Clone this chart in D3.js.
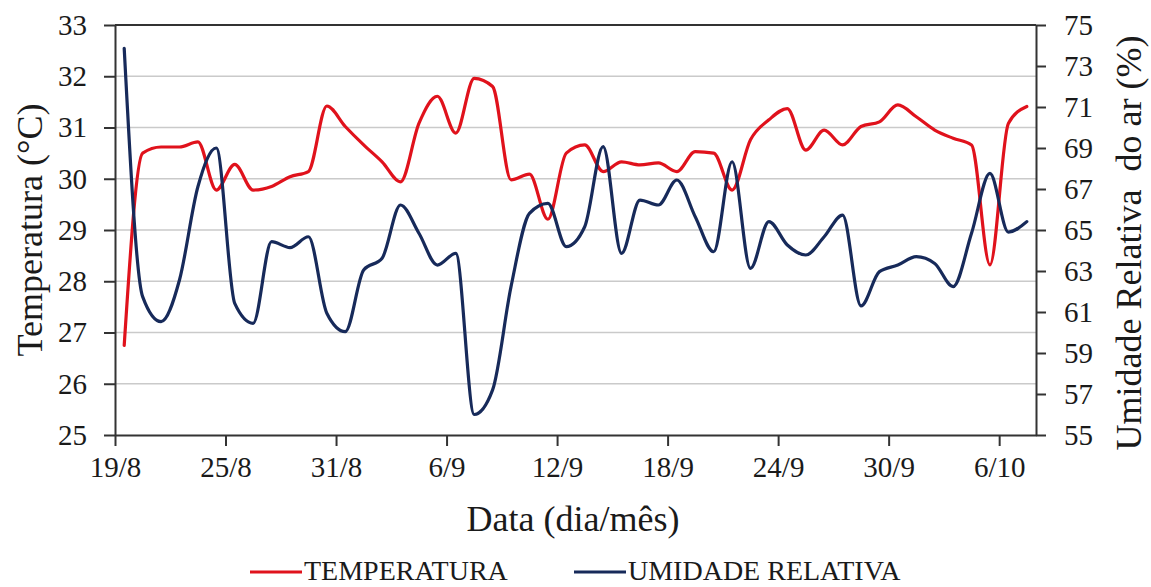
<!DOCTYPE html>
<html>
<head>
<meta charset="utf-8">
<script src="https://cdn.jsdelivr.net/npm/d3@7/dist/d3.min.js"></script>
<style>
  html, body { margin: 0; padding: 0; background: #ffffff; }
  svg { display: block; }
</style>
</head>
<body>
<svg id="chart" width="1151" height="587"></svg>
<script>
// Daily dates, 19/8 to 7/10
const dias = [
  "19/8","20/8","21/8","22/8","23/8","24/8","25/8","26/8","27/8","28/8",
  "29/8","30/8","31/8","1/9","2/9","3/9","4/9","5/9","6/9","7/9",
  "8/9","9/9","10/9","11/9","12/9","13/9","14/9","15/9","16/9","17/9",
  "18/9","19/9","20/9","21/9","22/9","23/9","24/9","25/9","26/9","27/9",
  "28/9","29/9","30/9","1/10","2/10","3/10","4/10","5/10","6/10","7/10"
];

// Mean daily air temperature (°C)
const temperatura = [
  26.75, 30.50, 30.62, 30.62, 30.72, 29.78, 30.28, 29.78, 29.85, 30.04,
  30.14, 31.42, 31.02, 30.66, 30.33, 29.94, 31.08, 31.61, 30.89, 31.96,
  31.80, 29.98, 30.09, 29.21, 30.50, 30.66, 30.14, 30.33, 30.27, 30.31,
  30.14, 30.53, 30.50, 29.78, 30.76, 31.15, 31.37, 30.56, 30.95, 30.66,
  31.02, 31.11, 31.44, 31.21, 30.95, 30.79, 30.66, 28.32, 31.08, 31.41
];

// Mean daily relative humidity (%)
const umidade = [
  73.86, 61.75, 60.53, 62.56, 67.11, 69.00, 61.42, 60.45, 64.43, 64.14,
  64.67, 60.94, 60.04, 63.05, 63.62, 66.22, 64.84, 63.29, 63.86, 56.00,
  57.20, 62.24, 65.81, 66.30, 64.19, 65.16, 69.07, 63.86, 66.46, 66.22,
  67.44, 65.65, 63.94, 68.33, 63.13, 65.41, 64.27, 63.78, 64.67, 65.73,
  61.30, 62.97, 63.29, 63.70, 63.37, 62.24, 64.84, 67.76, 64.90, 65.41
];

// Axis ticks
const ticksTemp = [25, 26, 27, 28, 29, 30, 31, 32, 33];
const ticksUmid = [55, 57, 59, 61, 63, 65, 67, 69, 71, 73, 75];
const ticksData = [0, 6, 12, 18, 24, 30, 36, 42, 48];

const FONTE = "'Liberation Serif', 'Times New Roman', Tinos, 'Nimbus Roman', 'DejaVu Serif', serif";
const svg = d3.select("#chart");
const plotL = 115, plotR = 1036, plotT = 25, plotB = 435;

const x = d3.scaleLinear().domain([0, dias.length]).range([plotL, plotR]);
const yT = d3.scaleLinear().domain([25, 33]).range([plotB, plotT]);
const yU = d3.scaleLinear().domain([55, 75]).range([plotB, plotT]);

// Horizontal gridlines on the temperature ticks
svg.append("g")
  .selectAll("line")
  .data(ticksTemp.slice(1, -1))
  .join("line")
  .attr("x1", plotL).attr("x2", plotR)
  .attr("y1", d => yT(d)).attr("y2", d => yT(d))
  .attr("stroke", "#cacaca")
  .attr("stroke-width", 1.6);

// Plot frame top edge
svg.append("line")
  .attr("x1", plotL).attr("x2", plotR)
  .attr("y1", plotT).attr("y2", plotT)
  .attr("stroke", "#333").attr("stroke-width", 2);

function styleAxis(g) {
  g.attr("font-family", FONTE).attr("font-size", 29);
  g.select(".domain").attr("stroke", "#333").attr("stroke-width", 2);
  g.selectAll(".tick line").attr("stroke", "#333").attr("stroke-width", 2);
  g.selectAll(".tick text").attr("fill", "#1a1a1a");
}

// Left axis: temperature
svg.append("g")
  .attr("transform", `translate(${plotL},0)`)
  .call(d3.axisLeft(yT).tickValues(ticksTemp).tickSize(11).tickSizeOuter(0).tickPadding(17).tickFormat(d3.format("d")))
  .call(styleAxis);

// Right axis: relative humidity
svg.append("g")
  .attr("transform", `translate(${plotR},0)`)
  .call(d3.axisRight(yU).tickValues(ticksUmid).tickSize(10).tickSizeOuter(0).tickPadding(18).tickFormat(d3.format("d")))
  .call(styleAxis);

// Bottom axis: dates
svg.append("g")
  .attr("transform", `translate(0,${plotB})`)
  .call(d3.axisBottom(x).tickValues(ticksData).tickSize(11).tickSizeOuter(0).tickPadding(10).tickFormat(i => dias[i]))
  .call(styleAxis);

// Series lines (smoothed)
const curve = d3.curveMonotoneX;
const lineT = d3.line().x((d, i) => x(i + 0.5)).y(d => yT(d)).curve(curve);
const lineU = d3.line().x((d, i) => x(i + 0.5)).y(d => yU(d)).curve(curve);

const corT = "#e0121c", corU = "#172a5a";

svg.append("path").datum(temperatura)
  .attr("d", lineT).attr("fill", "none")
  .attr("stroke", corT).attr("stroke-width", 3.2)
  .attr("stroke-linejoin", "round").attr("stroke-linecap", "round");

svg.append("path").datum(umidade)
  .attr("d", lineU).attr("fill", "none")
  .attr("stroke", corU).attr("stroke-width", 3.2)
  .attr("stroke-linejoin", "round").attr("stroke-linecap", "round");

// Axis titles
svg.append("text")
  .attr("transform", `translate(42,${(plotT + plotB) / 2}) rotate(-90)`)
  .attr("text-anchor", "middle")
  .attr("font-family", FONTE).attr("font-size", 36).attr("fill", "#1a1a1a")
  .text("Temperatura (°C)");

svg.append("text")
  .attr("transform", `translate(1141,${(plotT + plotB) / 2 + 13}) rotate(-90)`)
  .attr("text-anchor", "middle")
  .attr("font-family", FONTE).attr("font-size", 36).attr("fill", "#1a1a1a")
  .attr("xml:space", "preserve")
  .text("Umidade Relativa  do ar (%)");

svg.append("text")
  .attr("x", 573).attr("y", 531)
  .attr("text-anchor", "middle")
  .attr("font-family", FONTE).attr("font-size", 36).attr("fill", "#1a1a1a")
  .text("Data (dia/mês)");

// Legend
const legenda = [
  { nome: "TEMPERATURA", cor: corT, x0: 250 },
  { nome: "UMIDADE RELATIVA", cor: corU, x0: 574 }
];
const lg = svg.append("g");
legenda.forEach(l => {
  lg.append("line")
    .attr("x1", l.x0).attr("x2", l.x0 + 52)
    .attr("y1", 572).attr("y2", 572)
    .attr("stroke", l.cor).attr("stroke-width", 3.2);
  lg.append("text")
    .attr("x", l.x0 + 54).attr("y", 580)
    .attr("font-family", FONTE).attr("font-size", 28).attr("fill", "#1a1a1a")
    .text(l.nome);
});
</script>
</body>
</html>
